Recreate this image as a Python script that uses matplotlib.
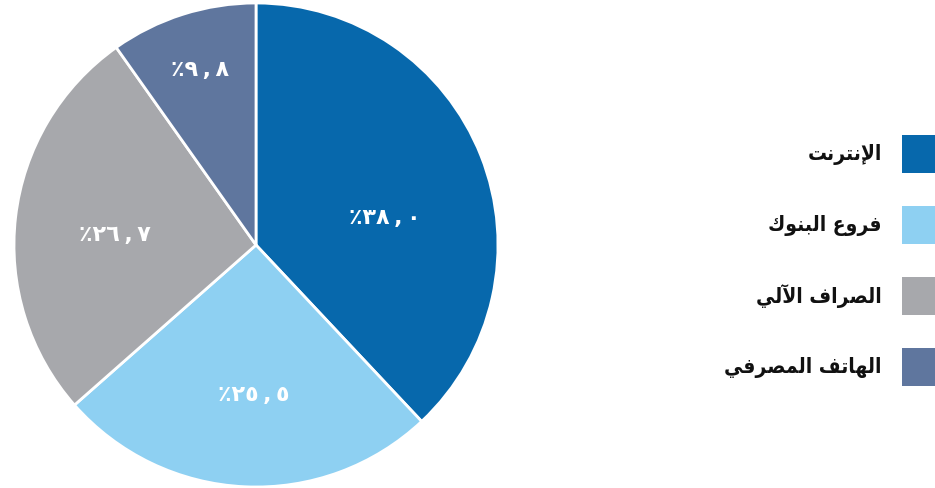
import matplotlib
matplotlib.use('Agg')
import matplotlib.pyplot as plt
from matplotlib.patches import Rectangle
import numpy as np

plt.rcParams['font.family'] = ['DejaVu Sans']

channels = ['الإنترنت', 'فروع البنوك', 'الصراف الآلي', 'الهاتف المصرفي']
shares = [38.0, 25.5, 26.7, 9.8]
colors = ['#0768AC', '#8ED0F2', '#A7A8AC', '#5F769E']

# label placement inside each slice: (radius, angle in degrees)
label_pos = [(0.545, 11.8), (0.62, -90.8), (0.585, 176.0), (0.76, 107.7)]

# --- minimal Arabic shaping (matplotlib draws glyphs left to right, unjoined) ---
FORMS = {
    'ا': ('\uFE8D', '\uFE8E'),
    'آ': ('\uFE81', '\uFE82'),
    'إ': ('\uFE87', '\uFE88'),
    'ب': ('\uFE8F', '\uFE90', '\uFE91', '\uFE92'),
    'ت': ('\uFE95', '\uFE96', '\uFE97', '\uFE98'),
    'ر': ('\uFEAD', '\uFEAE'),
    'ص': ('\uFEB9', '\uFEBA', '\uFEBB', '\uFEBC'),
    'ع': ('\uFEC9', '\uFECA', '\uFECB', '\uFECC'),
    'ف': ('\uFED1', '\uFED2', '\uFED3', '\uFED4'),
    'ك': ('\uFED9', '\uFEDA', '\uFEDB', '\uFEDC'),
    'ل': ('\uFEDD', '\uFEDE', '\uFEDF', '\uFEE0'),
    'م': ('\uFEE1', '\uFEE2', '\uFEE3', '\uFEE4'),
    'ن': ('\uFEE5', '\uFEE6', '\uFEE7', '\uFEE8'),
    'ه': ('\uFEE9', '\uFEEA', '\uFEEB', '\uFEEC'),
    'و': ('\uFEED', '\uFEEE'),
    'ي': ('\uFEF1', '\uFEF2', '\uFEF3', '\uFEF4'),
}
LAM_ALEF = {'ا': ('\uFEFB', '\uFEFC'), 'آ': ('\uFEF5', '\uFEF6'), 'إ': ('\uFEF9', '\uFEFA')}


def shape(text):
    units = []
    i = 0
    while i < len(text):
        c = text[i]
        if c == 'ل' and i + 1 < len(text) and text[i + 1] in LAM_ALEF:
            units.append((LAM_ALEF[text[i + 1]], None))
            i += 2
        elif c in FORMS:
            units.append((FORMS[c], None))
            i += 1
        else:
            units.append((None, c))
            i += 1
    out = []
    for k, (forms, raw) in enumerate(units):
        if forms is None:
            out.append(raw)
            continue
        prev = units[k - 1][0] if k > 0 else None
        nxt = units[k + 1][0] if k + 1 < len(units) else None
        join_prev = prev is not None and len(prev) == 4
        join_next = len(forms) == 4 and nxt is not None
        if join_prev and join_next:
            out.append(forms[3])
        elif join_prev:
            out.append(forms[1])
        elif join_next:
            out.append(forms[2])
        else:
            out.append(forms[0])
    return ''.join(out[::-1])


def arabic_pct(v):
    s = f'{v:.1f}'.replace('.', '\u2009,\u2009')
    s = s.translate(str.maketrans('0123456789', '٠١٢٣٤٥٦٧٨٩'))
    return '٪' + s


W, H = 935, 488
fig = plt.figure(figsize=(W / 100, H / 100), dpi=100)
ax = fig.add_axes([14 / W, 1 / H, 484 / W, 484 / H])

wedges, _ = ax.pie(shares, colors=colors, startangle=90, counterclock=False,
                   wedgeprops=dict(edgecolor='white', linewidth=2))
ax.set_xlim(-1, 1)
ax.set_ylim(-1, 1)
ax.set_aspect('equal')
ax.axis('off')

for v, (r, ang) in zip(shares, label_pos):
    t = np.deg2rad(ang)
    ax.text(r * np.cos(t), r * np.sin(t), arabic_pct(v), color='white',
            fontsize=16, fontweight='bold', ha='center', va='center')

# legend: swatch on the right, label to its left
for i, (name, c) in enumerate(zip(channels, colors)):
    yc = 154 + i * 71
    fig.patches.append(Rectangle((902 / W, 1 - (yc + 19) / H), 33 / W, 38 / H,
                                 transform=fig.transFigure, facecolor=c,
                                 edgecolor='none'))
    fig.text(882 / W, 1 - yc / H, shape(name), ha='right', va='center',
             fontsize=15, fontweight='bold', fontstretch='condensed',
             color='#111111')

fig.savefig('out.png', dpi=100)
